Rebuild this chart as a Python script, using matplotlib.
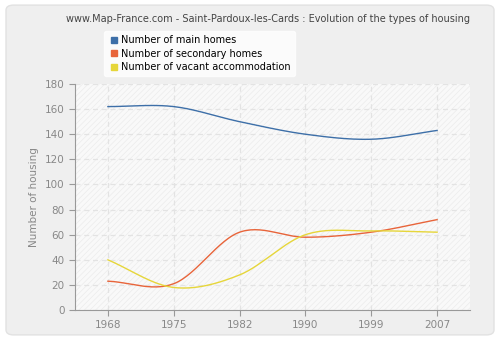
import numpy as np
import matplotlib
matplotlib.use("Agg")
import matplotlib.pyplot as plt
from matplotlib.patches import FancyBboxPatch, Rectangle
from matplotlib.lines import Line2D

years = ["1968", "1975", "1982", "1990", "1999", "2007"]
main_homes = [162, 162, 150, 140, 136, 143]
secondary_homes = [23, 21, 62, 58, 62, 72]
vacant = [40, 18, 28, 60, 63, 62]
series_names = ["Number of main homes", "Number of secondary homes", "Number of vacant accommodation"]
colors = ["#3d6fa8", "#e8643a", "#e6d63a"]
yticks = [0, 20, 40, 60, 80, 100, 120, 140, 160, 180]


def catmull_rom(x, y, n=30):
    x = np.asarray(x, float)
    y = np.asarray(y, float)
    px = np.concatenate([[2 * x[0] - x[1]], x, [2 * x[-1] - x[-2]]])
    py = np.concatenate([[2 * y[0] - y[1]], y, [2 * y[-1] - y[-2]]])
    xs, ys = [], []
    for i in range(1, len(px) - 2):
        t = np.linspace(0, 1, n, endpoint=(i == len(px) - 3))
        p0, p1, p2, p3 = py[i - 1], py[i], py[i + 1], py[i + 2]
        yy = 0.5 * ((2 * p1) + (-p0 + p2) * t + (2 * p0 - 5 * p1 + 4 * p2 - p3) * t ** 2
                    + (-p0 + 3 * p1 - 3 * p2 + p3) * t ** 3)
        xx = px[i] + (px[i + 1] - px[i]) * t
        xs.append(xx)
        ys.append(yy)
    return np.concatenate(xs), np.concatenate(ys)


plt.rcParams["hatch.linewidth"] = 0.5
fig = plt.figure(figsize=(5, 3.4), dpi=100)
fig.patch.set_facecolor("white")
panel = FancyBboxPatch((0.012, 0.015), 0.976, 0.97, boxstyle="round,pad=0,rounding_size=0.015",
                       transform=fig.transFigure, facecolor="#efefef", edgecolor="#e2e2e2",
                       linewidth=1.0, zorder=-10)
fig.patches.append(panel)

ax = fig.add_axes([0.15, 0.088, 0.79, 0.665])
ax.set_facecolor("#f9f9f9")
ax.add_patch(Rectangle((0, 0), 1, 1, transform=ax.transAxes, facecolor="#f9f9f9",
                       edgecolor="#ececec", hatch="//////", linewidth=0, zorder=0))

x = np.arange(len(years))
for vals, c in zip([main_homes, secondary_homes, vacant], colors):
    xs, ys = catmull_rom(x, vals)
    ax.plot(xs, ys, color=c, linewidth=1.0, zorder=3)

ax.set_xlim(-0.5, 5.5)
ax.set_ylim(0, 180)
ax.set_xticks(x)
ax.set_xticklabels(years)
ax.set_yticks(yticks)
ax.grid(True, color="#e3e3e3", linestyle=(0, (4, 3)), linewidth=0.9)
ax.set_axisbelow(True)
for s in ["top", "right"]:
    ax.spines[s].set_visible(False)
for s in ["left", "bottom"]:
    ax.spines[s].set_color("#999999")
ax.tick_params(colors="#999999", labelcolor="#888888", labelsize=7.5, length=4)
ax.set_ylabel("Number of housing", color="#888888", fontsize=7.5)

fig.text(0.535, 0.945, "www.Map-France.com - Saint-Pardoux-les-Cards : Evolution of the types of housing",
         ha="center", va="center", fontsize=7, color="#444444")

handles = [Line2D([0], [0], marker="s", linestyle="", color=c, markersize=4.5) for c in colors]
leg = fig.legend(handles, series_names, loc="upper left", bbox_to_anchor=(0.198, 0.922),
                 fontsize=7, frameon=True, fancybox=True, handletextpad=0.2,
                 labelspacing=0.35, borderpad=0.4, handlelength=1.2)
leg.get_frame().set_facecolor("white")
leg.get_frame().set_edgecolor("white")

fig.savefig("out.png", dpi=100, facecolor=fig.get_facecolor())
